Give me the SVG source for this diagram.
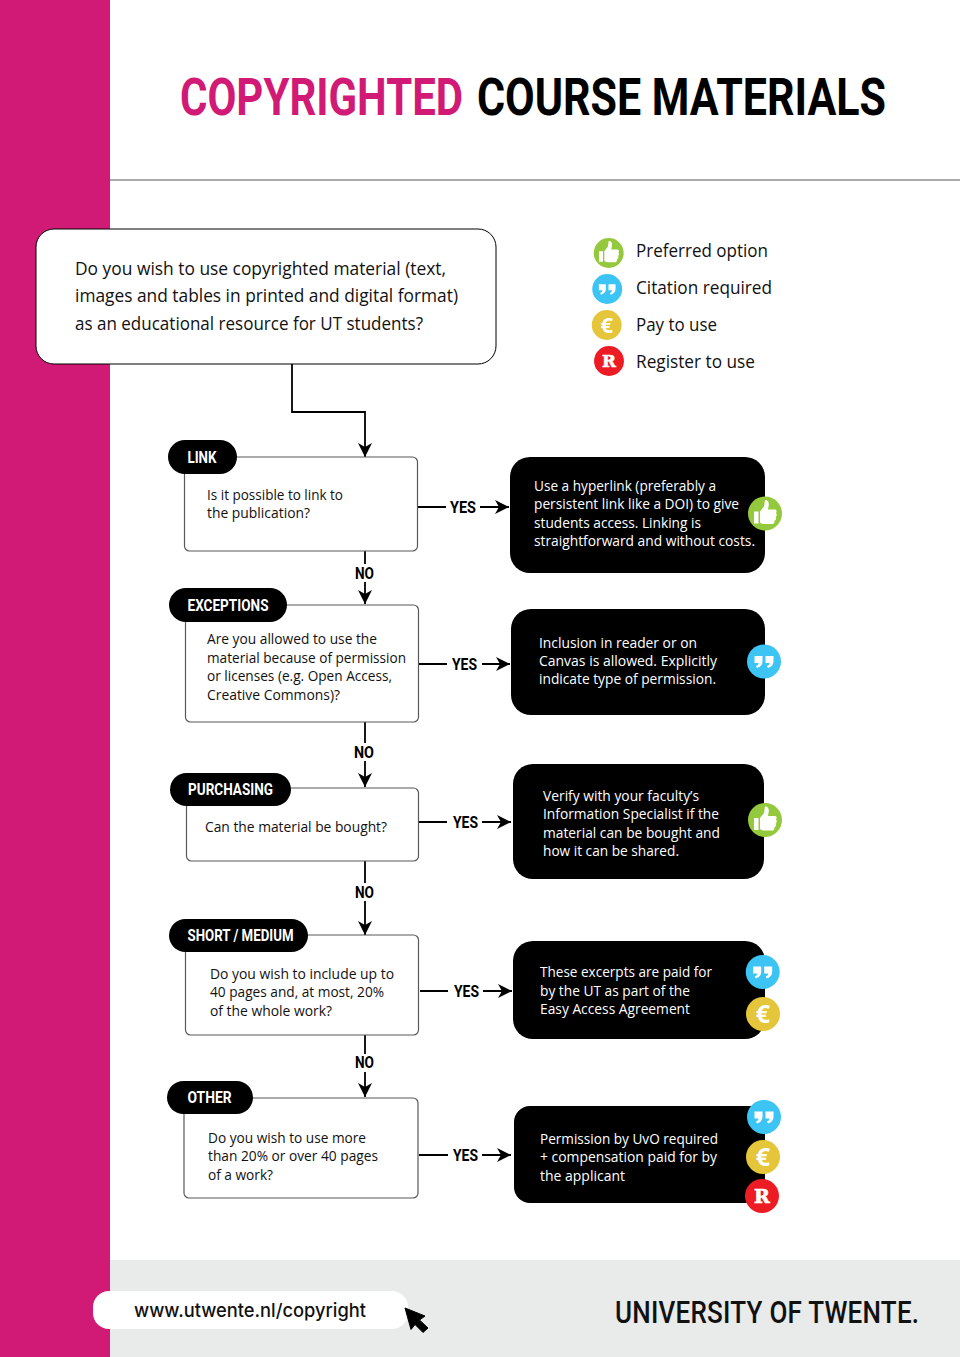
<svg xmlns="http://www.w3.org/2000/svg" xmlns:xlink="http://www.w3.org/1999/xlink" width="960" height="1357" viewBox="0 0 960 1357">
<style>
.q{fill:#fff;stroke:#58595b;stroke-width:1.2}
.a{fill:#000}
.b{font-family:"Open Sans","Noto Sans",sans-serif;font-size:14.6px;fill:#111}
.w{font-family:"Open Sans","Noto Sans",sans-serif;font-size:14.6px;fill:#fff}
.l{font-family:"Open Sans","Noto Sans",sans-serif;font-size:19px;fill:#111}
.t{font-family:Roboto,"Liberation Sans",sans-serif;font-weight:700;font-size:17px;fill:#fff}
.y{font-family:Roboto,"Liberation Sans",sans-serif;font-weight:700;font-size:16.5px;fill:#000}
.h{font-family:Roboto,"Liberation Sans",sans-serif;font-weight:700;font-size:51px}
.c{fill:none;stroke:#000;stroke-width:1.8}
.ic{fill:#fff}
.e{font-family:"Open Sans",sans-serif;font-weight:700;font-size:25px;fill:#fff;text-anchor:middle}
.r{font-family:"DejaVu Serif","Liberation Serif",serif;font-weight:700;font-size:19px;fill:#fff;text-anchor:middle;stroke:#fff;stroke-width:.7}
</style>
<defs>
<marker id="ar" markerUnits="userSpaceOnUse" markerWidth="16" markerHeight="16" refX="14" refY="7" orient="auto"><path d="M0 0L14 7L0 14L4 7Z" fill="#000"/></marker>
<g id="thumb"><circle r="17" fill="#95c93d"/><path class="ic" d="M-11-2h4.500v12h-4.500zM-5-2L-1-7L0-13.500C3-14 4.500-11 3.500-7L3-4H10C12-4 12-1 10.800-.5C12.200 0 12 3 10.500 3.500C11.500 4.500 11 7 9.300 7.300C9.800 9 8.800 10.500 7 10.500H-1C-3 10.500-5 9.500-5 8.500Z"/></g>
<g id="quote"><circle r="17" fill="#3cc4f4"/><path class="ic" d="M-9.500-5.500H-1.500V0C-1.500 3-3.500 5.500-7 6.500L-8 4.500C-6.500 4-5.500 3-5.500 1.500H-9.500ZM1.500-5.500H9.500V0C9.500 3 7.500 5.500 4 6.500L3 4.500C4.500 4 5.500 3 5.500 1.500H1.500Z"/></g>
<g id="euro"><circle r="17" fill="#e5c53a"/><text class="e" y="9">€</text></g>
<g id="reg"><circle r="17" fill="#ed1c24"/><text class="r" y="7">R</text></g>
</defs>

<g id="background">
<rect width="960" height="1357" fill="#fff"/>
<rect x="110" y="1260" width="850" height="97" fill="#e9eaea"/>
<rect width="110" height="1357" fill="#d11a75"/>
<line x1="110" y1="180" x2="960" y2="180" stroke="#58595b" stroke-width="1.2"/>
</g>

<g id="title">
<text class="h" transform="translate(180 114.500) scale(.838 1)" fill="#d11a75" textLength="337.700" lengthAdjust="spacingAndGlyphs">COPYRIGHTED</text>
<text class="h" transform="translate(477 114.500) scale(.841 1)" fill="#000" textLength="486.300" lengthAdjust="spacingAndGlyphs">COURSE MATERIALS</text>
</g>

<g id="connectors" class="c">
<path d="M292 364V412H365V457" marker-end="url(#ar)"/>
<path d="M418 507H446M480 507H509" marker-end="url(#ar)"/>
<path d="M365 551V564M365 582V604" marker-end="url(#ar)"/>
<path d="M419 664H447M482 664H510" marker-end="url(#ar)"/>
<path d="M365 722V743M365 761V787" marker-end="url(#ar)"/>
<path d="M419 822H447M482 822H511" marker-end="url(#ar)"/>
<path d="M365 861V883M365 901V935" marker-end="url(#ar)"/>
<path d="M420 991H448M483 991H512" marker-end="url(#ar)"/>
<path d="M365 1035V1054M365 1072V1097" marker-end="url(#ar)"/>
<path d="M419 1155H448M482 1155H511" marker-end="url(#ar)"/>
</g>

<g id="edge-labels">
<text class="y" x="450" y="513" textLength="26" lengthAdjust="spacingAndGlyphs">YES</text>
<text class="y" x="355" y="579" textLength="19" lengthAdjust="spacingAndGlyphs">NO</text>
<text class="y" x="452" y="670" textLength="25" lengthAdjust="spacingAndGlyphs">YES</text>
<text class="y" x="354" y="758" textLength="20" lengthAdjust="spacingAndGlyphs">NO</text>
<text class="y" x="453" y="828" textLength="25" lengthAdjust="spacingAndGlyphs">YES</text>
<text class="y" x="355" y="898" textLength="19" lengthAdjust="spacingAndGlyphs">NO</text>
<text class="y" x="454" y="997" textLength="25" lengthAdjust="spacingAndGlyphs">YES</text>
<text class="y" x="355" y="1068" textLength="19" lengthAdjust="spacingAndGlyphs">NO</text>
<text class="y" x="453" y="1161" textLength="25" lengthAdjust="spacingAndGlyphs">YES</text>
</g>

<g id="intro">
<rect x="36" y="229" width="460" height="135" rx="18" fill="#fff" stroke="#000" stroke-width="1"/>
<text class="l" x="75" y="275" textLength="371" lengthAdjust="spacingAndGlyphs">Do you wish to use copyrighted material (text,</text>
<text class="l" x="75" y="302" textLength="383" lengthAdjust="spacingAndGlyphs">images and tables in printed and digital format)</text>
<text class="l" x="75" y="330" textLength="348" lengthAdjust="spacingAndGlyphs">as an educational resource for UT students?</text>
</g>

<g id="legend">
<use href="#thumb" transform="translate(608.700 253) scale(.88)"/><text class="l" x="636" y="257" textLength="132" lengthAdjust="spacingAndGlyphs">Preferred option</text>
<use href="#quote" transform="translate(607.200 289) scale(.88)"/><text class="l" x="636" y="294" textLength="136" lengthAdjust="spacingAndGlyphs">Citation required</text>
<use href="#euro" transform="translate(606.700 325) scale(.88)"/><text class="l" x="636" y="331" textLength="81" lengthAdjust="spacingAndGlyphs">Pay to use</text>
<use href="#reg" transform="translate(609 361) scale(.88)"/><text class="l" x="636" y="368" textLength="119" lengthAdjust="spacingAndGlyphs">Register to use</text>
</g>

<g id="q-link">
<rect class="q" x="184.500" y="457" width="233" height="94" rx="5"/>
<rect class="a" x="168" y="440" width="69" height="34" rx="17"/>
<text class="t" x="187.500" y="463" textLength="29" lengthAdjust="spacingAndGlyphs">LINK</text>
<text class="b" x="207" y="499.500" textLength="136" lengthAdjust="spacingAndGlyphs">Is it possible to link to</text>
<text class="b" x="207" y="518" textLength="103" lengthAdjust="spacingAndGlyphs">the publication?</text>
</g>
<g id="a-link">
<rect class="a" x="510" y="457" width="255" height="116" rx="20"/>
<text class="w" x="534" y="490.500" textLength="182" lengthAdjust="spacingAndGlyphs">Use a hyperlink (preferably a</text>
<text class="w" x="534" y="509" textLength="205" lengthAdjust="spacingAndGlyphs">persistent link like a DOI) to give</text>
<text class="w" x="534" y="527.500" textLength="167" lengthAdjust="spacingAndGlyphs">students access. Linking is</text>
<text class="w" x="534" y="546" textLength="221" lengthAdjust="spacingAndGlyphs">straightforward and without costs.</text>
<use href="#thumb" x="765" y="513.500"/>
</g>

<g id="q-exceptions">
<rect class="q" x="185.500" y="605" width="233" height="117" rx="5"/>
<rect class="a" x="169" y="588" width="118" height="34" rx="17"/>
<text class="t" x="187.500" y="611" textLength="81" lengthAdjust="spacingAndGlyphs">EXCEPTIONS</text>
<text class="b" x="207" y="644" textLength="170" lengthAdjust="spacingAndGlyphs">Are you allowed to use the</text>
<text class="b" x="207" y="662.500" textLength="199" lengthAdjust="spacingAndGlyphs">material because of permission</text>
<text class="b" x="207" y="681" textLength="185" lengthAdjust="spacingAndGlyphs">or licenses (e.g. Open Access,</text>
<text class="b" x="207" y="699.500" textLength="133" lengthAdjust="spacingAndGlyphs">Creative Commons)?</text>
</g>
<g id="a-exceptions">
<rect class="a" x="511" y="609" width="254" height="106" rx="20"/>
<text class="w" x="539" y="647.500" textLength="158" lengthAdjust="spacingAndGlyphs">Inclusion in reader or  on</text>
<text class="w" x="539" y="666" textLength="178" lengthAdjust="spacingAndGlyphs">Canvas is allowed.  Explicitly</text>
<text class="w" x="539" y="684" textLength="177" lengthAdjust="spacingAndGlyphs">indicate type of permission.</text>
<use href="#quote" x="764" y="661.500"/>
</g>

<g id="q-purchasing">
<rect class="q" x="186.500" y="788" width="232" height="73" rx="5"/>
<rect class="a" x="170" y="773" width="121" height="33" rx="16.500"/>
<text class="t" x="188" y="795" textLength="85" lengthAdjust="spacingAndGlyphs">PURCHASING</text>
<text class="b" x="205" y="831.500" textLength="182" lengthAdjust="spacingAndGlyphs">Can the material be bought?</text>
</g>
<g id="a-purchasing">
<rect class="a" x="513" y="764" width="251" height="115" rx="20"/>
<text class="w" x="543" y="800.500" textLength="156" lengthAdjust="spacingAndGlyphs">Verify with your faculty’s</text>
<text class="w" x="543" y="819" textLength="176" lengthAdjust="spacingAndGlyphs">Information Specialist if the</text>
<text class="w" x="543" y="837.500" textLength="177" lengthAdjust="spacingAndGlyphs">material can be bought and</text>
<text class="w" x="543" y="856" textLength="136" lengthAdjust="spacingAndGlyphs">how it can be shared.</text>
<use href="#thumb" x="765" y="820"/>
</g>

<g id="q-short-medium">
<rect class="q" x="185.500" y="935" width="233" height="100" rx="5"/>
<rect class="a" x="169" y="919" width="139" height="33" rx="16.500"/>
<text class="t" x="187.500" y="941" textLength="106" lengthAdjust="spacingAndGlyphs">SHORT / MEDIUM</text>
<text class="b" x="210" y="979" textLength="184" lengthAdjust="spacingAndGlyphs">Do you wish to include up to</text>
<text class="b" x="210" y="997" textLength="174" lengthAdjust="spacingAndGlyphs">40 pages and, at most, 20%</text>
<text class="b" x="210" y="1016" textLength="122" lengthAdjust="spacingAndGlyphs">of the whole work?</text>
</g>
<g id="a-short-medium">
<rect class="a" x="513" y="941" width="252" height="98" rx="20"/>
<text class="w" x="540" y="977" textLength="172" lengthAdjust="spacingAndGlyphs">These excerpts are paid for</text>
<text class="w" x="540" y="995.500" textLength="150" lengthAdjust="spacingAndGlyphs">by the UT as part of the</text>
<text class="w" x="540" y="1014" textLength="150" lengthAdjust="spacingAndGlyphs">Easy Access Agreement</text>
<use href="#quote" x="762.700" y="972"/>
<use href="#euro" x="763" y="1014"/>
</g>

<g id="q-other">
<rect class="q" x="184" y="1098" width="234" height="100" rx="5"/>
<rect class="a" x="167" y="1081" width="86" height="33" rx="16.500"/>
<text class="t" x="187.500" y="1103" textLength="44" lengthAdjust="spacingAndGlyphs">OTHER</text>
<text class="b" x="208" y="1142.500" textLength="158" lengthAdjust="spacingAndGlyphs">Do you wish to use more</text>
<text class="b" x="208" y="1161" textLength="170" lengthAdjust="spacingAndGlyphs">than 20% or over 40 pages</text>
<text class="b" x="208" y="1179.500" textLength="65" lengthAdjust="spacingAndGlyphs">of a work?</text>
</g>
<g id="a-other">
<rect class="a" x="514" y="1106" width="251" height="97" rx="16"/>
<text class="w" x="540" y="1144" textLength="178" lengthAdjust="spacingAndGlyphs">Permission by UvO required</text>
<text class="w" x="540" y="1162" textLength="177" lengthAdjust="spacingAndGlyphs">+ compensation paid for by</text>
<text class="w" x="540" y="1181" textLength="85" lengthAdjust="spacingAndGlyphs">the applicant</text>
<use href="#quote" x="764" y="1117"/>
<use href="#euro" x="763" y="1157"/>
<use href="#reg" x="762" y="1196"/>
</g>

<g id="footer">
<rect x="93" y="1291" width="315" height="38" rx="16" fill="#fff"/>
<text x="134" y="1317" font-family="Inter,'Liberation Sans',sans-serif" font-size="18.500" font-weight="500" fill="#111" textLength="232" lengthAdjust="spacingAndGlyphs">www.utwente.nl/copyright</text>
<path d="M405 1308L425 1316L419.500 1320L428 1328L423 1332.500L415 1324.500L411 1329.500Z" fill="#000" stroke="#000" stroke-width="1" stroke-linejoin="round"/>
<text transform="translate(615 1322.500) scale(.84 1)" font-family="Roboto,'Liberation Sans',sans-serif" font-size="31" font-weight="500" fill="#111" textLength="362" lengthAdjust="spacing">UNIVERSITY OF TWENTE.</text>
</g>
</svg>
